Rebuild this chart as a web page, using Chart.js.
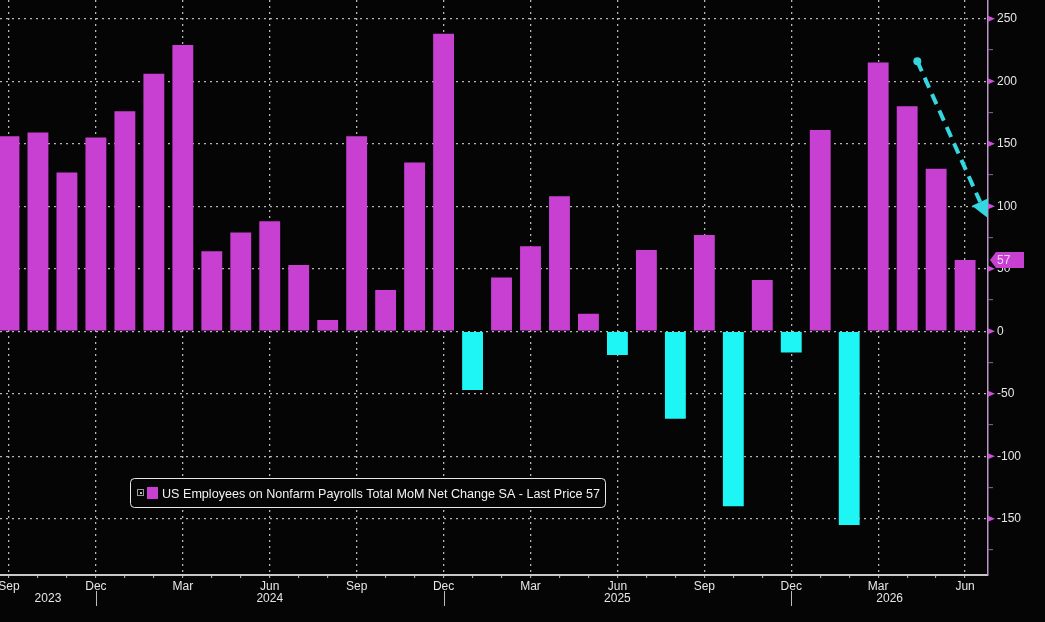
<!DOCTYPE html>
<html>
<head>
<meta charset="utf-8">
<script src="https://cdn.jsdelivr.net/npm/chart.js@4.4.1/dist/chart.umd.min.js"></script>
<style>
html, body { margin: 0; padding: 0; background: #050505; }
#wrap { width: 1045px; height: 622px; }
</style>
</head>
<body>
<div id="wrap"><canvas id="grafico" width="1045" height="622"></canvas></div>
<script>
// months Sep 2023 -> Jun 2026
const months = ['Sep','Oct','Nov','Dec',
  'Jan','Feb','Mar','Apr','May','Jun','Jul','Aug','Sep','Oct','Nov','Dec',
  'Jan','Feb','Mar','Apr','May','Jun','Jul','Aug','Sep','Oct','Nov','Dec',
  'Jan','Feb','Mar','Apr','May','Jun'];
const payrolls = [156, 159, 127, 155,
  176, 206, 229, 64, 79, 88, 53, 9, 156, 33, 135, 238,
  -47, 43, 68, 108, 14, -19, 65, -70, 77, -140, 41, -17,
  161, -155, 215, 180, 130, 57];
const labeledMonths = ['Sep', 'Dec', 'Mar', 'Jun'];
const years = ['2023', '2024', '2025', '2026'];
const yTicks = [-175, -150, -125, -100, -75, -50, -25, 0, 25, 50, 75, 100, 125, 150, 175, 200, 225, 250];
const yRange = [-195, 265];
const xRange = [-0.31, 33.79];
// trend arrow: [month index, value]
const arrowFrom = [31.35, 216];
const arrowTo = [33.76, 91];

const legendText = 'US Employees on Nonfarm Payrolls Total MoM Net Change SA - Last Price ' + payrolls[payrolls.length - 1];

const MAGENTA = 'rgb(200,64,210)';
const CYAN = 'rgb(30,245,245)';
const ARROW = 'rgb(52,214,224)';

const isMajorX = v => Number.isInteger(v) && labeledMonths.includes(months[v]);

const decor = {
  id: 'decor',
  afterDatasetsDraw(chart) {
    const ctx = chart.ctx;
    const xs = chart.scales.x;
    const ys = chart.scales.y;
    const area = chart.chartArea;

    // triangles on the right axis
    ctx.save();
    ctx.fillStyle = 'rgb(205,80,215)';
    yTicks.filter(v => v % 50 === 0).forEach(v => {
      const py = ys.getPixelForValue(v);
      ctx.beginPath();
      ctx.moveTo(area.right, py - 3);
      ctx.lineTo(area.right + 7, py);
      ctx.lineTo(area.right, py + 3);
      ctx.closePath();
      ctx.fill();
    });
    ctx.restore();

    // year separators + year labels
    const seps = [];
    months.forEach((m, i) => { if (m === 'Dec') seps.push(xs.getPixelForValue(i)); });
    ctx.save();
    ctx.strokeStyle = '#bdbdbd';
    ctx.lineWidth = 1;
    seps.forEach(px => {
      ctx.beginPath();
      ctx.moveTo(Math.round(px) + 0.5, 591);
      ctx.lineTo(Math.round(px) + 0.5, 606);
      ctx.stroke();
    });
    const bounds = [area.left].concat(seps, [area.right]);
    ctx.fillStyle = '#e6e6e6';
    ctx.font = '12px "Liberation Sans"';
    ctx.textAlign = 'center';
    ctx.textBaseline = 'middle';
    years.forEach((y, i) => {
      ctx.fillText(y, (bounds[i] + bounds[i + 1]) / 2, 599);
    });
    ctx.restore();

    // last value tag
    const last = payrolls[payrolls.length - 1];
    const ty = ys.getPixelForValue(last);
    ctx.save();
    ctx.fillStyle = 'rgb(200,64,210)';
    ctx.beginPath();
    ctx.moveTo(area.right + 2, ty);
    ctx.lineTo(area.right + 8, ty - 8);
    ctx.lineTo(area.right + 36, ty - 8);
    ctx.lineTo(area.right + 36, ty + 8);
    ctx.lineTo(area.right + 8, ty + 8);
    ctx.closePath();
    ctx.fill();
    ctx.fillStyle = '#f4d4f6';
    ctx.font = '12px "Liberation Sans"';
    ctx.textBaseline = 'middle';
    ctx.fillText(String(last), area.right + 9, ty + 1);
    ctx.restore();

    // legend box
    ctx.save();
    ctx.fillStyle = '#050505';
    ctx.strokeStyle = '#e8e8e8';
    ctx.lineWidth = 1;
    ctx.beginPath();
    ctx.roundRect(130.5, 478.5, 475, 29, 4);
    ctx.fill();
    ctx.stroke();
    ctx.strokeStyle = '#9a9a9a';
    ctx.strokeRect(137.5, 489.5, 6, 6);
    ctx.fillStyle = '#bbbbbb';
    ctx.fillRect(140, 492, 2, 2);
    ctx.fillStyle = MAGENTA;
    ctx.fillRect(147, 487, 11, 12);
    ctx.fillStyle = '#f2f2f2';
    ctx.font = '13.5px "Liberation Sans"';
    ctx.textBaseline = 'middle';
    const k = 438 / ctx.measureText(legendText).width;
    ctx.translate(162, 494);
    ctx.scale(k, 1);
    ctx.fillText(legendText, 0, 0);
    ctx.restore();

    // dashed trend arrow
    const x1 = xs.getPixelForValue(arrowFrom[0]), y1 = ys.getPixelForValue(arrowFrom[1]);
    const x2 = xs.getPixelForValue(arrowTo[0]), y2 = ys.getPixelForValue(arrowTo[1]);
    const len = Math.hypot(x2 - x1, y2 - y1);
    const ux = (x2 - x1) / len, uy = (y2 - y1) / len;
    const head = 17;
    const bx = x2 - ux * head, by = y2 - uy * head;
    ctx.save();
    ctx.strokeStyle = ARROW;
    ctx.fillStyle = ARROW;
    ctx.lineWidth = 4;
    ctx.setLineDash([11, 7]);
    ctx.beginPath();
    ctx.moveTo(x1, y1);
    ctx.lineTo(bx, by);
    ctx.stroke();
    ctx.setLineDash([]);
    ctx.beginPath();
    ctx.arc(x1, y1, 4, 0, Math.PI * 2);
    ctx.fill();
    ctx.beginPath();
    ctx.moveTo(x2, y2);
    ctx.lineTo(bx - uy * 9, by + ux * 9);
    ctx.lineTo(bx + uy * 9, by - ux * 9);
    ctx.closePath();
    ctx.fill();
    ctx.restore();
  }
};

Chart.defaults.font.family = '"Liberation Sans", Arial, sans-serif';

const grafico = new Chart(document.getElementById('grafico'), {
  type: 'bar',
  data: {
    datasets: [{
      label: legendText,
      data: payrolls.map((v, i) => ({ x: i, y: v })),
      backgroundColor: payrolls.map(v => v < 0 ? CYAN : MAGENTA),
      borderWidth: 0,
      barPercentage: 0.72,
      categoryPercentage: 1
    }]
  },
  options: {
    responsive: false,
    devicePixelRatio: 1,
    animation: false,
    layout: { padding: 0 },
    plugins: {
      legend: { display: false },
      tooltip: { enabled: false }
    },
    scales: {
      x: {
        type: 'linear',
        offset: false,
        min: xRange[0],
        max: xRange[1],
        bounds: 'data',
        afterBuildTicks: s => { s.ticks = months.map((m, i) => ({ value: i })); },
        afterFit: s => { s.height = 47; s.paddingLeft = 0; s.paddingRight = 0; },
        ticks: {
          autoSkip: false,
          maxRotation: 0,
          padding: 1,
          color: '#e6e6e6',
          font: { size: 12 },
          callback: v => isMajorX(v) ? months[v] : ''
        },
        grid: {
          offset: false,
          color: c => isMajorX(c.tick && c.tick.value) ? 'rgba(225,225,225,0.8)' : 'rgba(0,0,0,0)',
          lineWidth: 1.3,
          tickColor: '#c8c8c8',
          tickLength: 3,
          tickWidth: 1
        },
        border: { display: true, color: '#c8c8c8', width: 2, dash: [2, 4] }
      },
      y: {
        position: 'right',
        min: yRange[0],
        max: yRange[1],
        bounds: 'data',
        afterBuildTicks: s => { s.ticks = yTicks.map(v => ({ value: v })); },
        afterFit: s => { s.width = 57; s.paddingTop = 0; s.paddingBottom = 0; },
        ticks: {
          padding: 4,
          color: '#e6e6e6',
          font: { size: 12 },
          callback: v => v % 50 === 0 ? String(v) : ''
        },
        grid: {
          color: c => (c.tick && c.tick.value % 50 === 0) ? 'rgba(225,225,225,0.8)' : 'rgba(0,0,0,0)',
          lineWidth: 1.3,
          tickColor: c => (c.tick && c.tick.value % 50 === 0) ? 'rgba(0,0,0,0)' : 'rgb(150,95,165)',
          tickLength: 5,
          tickWidth: 1
        },
        border: { display: true, color: 'rgb(185,150,200)', width: 1.5, dash: [2, 4] }
      }
    }
  },
  plugins: [decor]
});
</script>
</body>
</html>
